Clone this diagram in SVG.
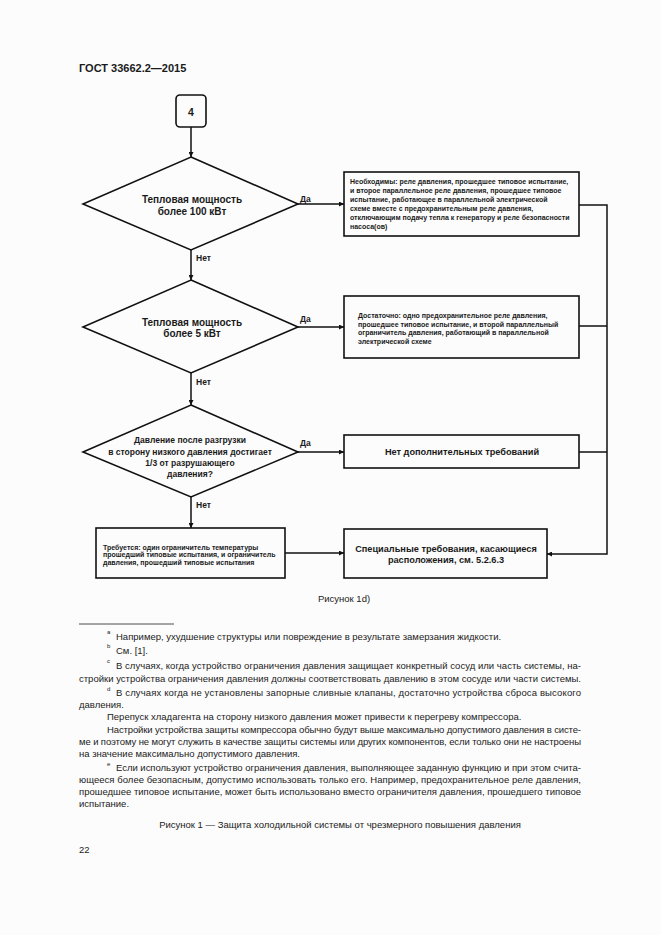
<svg xmlns="http://www.w3.org/2000/svg" width="661" height="935" viewBox="0 0 661 935">
<style>
text{font-family:"Liberation Sans",Arial,sans-serif;fill:#1a1a1a}
.hd{font-size:11px;font-weight:bold}
.dm{font-size:10px;font-weight:bold;text-anchor:middle}
.dq{font-size:8.5px;font-weight:bold;text-anchor:middle}
.lb{font-size:8.5px;font-weight:bold}
.sm{font-size:7px;font-weight:bold}
.md{font-size:9.2px;font-weight:bold;text-anchor:middle}
.fn{font-size:9.5px;fill:#222}
.sup{font-size:6px;fill:#222}
.cap{font-size:9.5px;fill:#222;text-anchor:middle}
.shape{fill:none;stroke:#111;stroke-width:1.6}
.line{fill:none;stroke:#111;stroke-width:1.5}
</style>
<defs>
<marker id="ah" viewBox="0 0 6 6" refX="6" refY="3" markerWidth="5" markerHeight="5" markerUnits="userSpaceOnUse" orient="auto">
<path d="M0,0 L6,3 L0,6 z" fill="#111"/>
</marker>
</defs>
<rect width="661" height="935" fill="#fcfcfc"/>
<text class="hd" x="79" y="72">ГОСТ 33662.2—2015</text>

<g id="start">
<rect class="shape" x="176" y="95" width="30" height="32" rx="4" stroke-width="2"/>
<text x="191" y="115.5" style="font-size:10.5px;font-weight:bold;text-anchor:middle">4</text>
</g>

<g id="d1">
<polygon class="shape" points="191,157 298,204 191,250 83,204" stroke-width="1.3"/>
<text class="dm" x="192" y="203">Тепловая мощность</text>
<text class="dm" x="192" y="215">более 100 кВт</text>
</g>

<g id="d2">
<polygon class="shape" points="191,280 298,327 191,373 83,327" stroke-width="1.3"/>
<text class="dm" x="192" y="326">Тепловая мощность</text>
<text class="dm" x="192" y="337">более 5 кВт</text>
</g>

<g id="d3">
<polygon class="shape" points="191,405 298,452 191,497 83,452" stroke-width="1.3"/>
<text class="dq" x="190" y="443">Давление после разгрузки</text>
<text class="dq" x="190" y="455">в сторону низкого давления достигает</text>
<text class="dq" x="190" y="466">1/3 от разрушающего</text>
<text class="dq" x="190" y="477">давления?</text>
</g>

<g id="b1">
<rect class="shape" x="344" y="172" width="235" height="64"/>
<text class="sm" x="350" y="184">Необходимы: реле давления, прошедшее типовое испытание,</text>
<text class="sm" x="350" y="193">и второе параллельное реле давления, прошедшее типовое</text>
<text class="sm" x="350" y="202">испытание, работающее в параллельной электрической</text>
<text class="sm" x="350" y="211">схеме вместе с предохранительным реле давления,</text>
<text class="sm" x="350" y="220">отключающим подачу тепла к генератору и реле безопасности</text>
<text class="sm" x="350" y="229">насоса(ов)</text>
</g>

<g id="b2">
<rect class="shape" x="344" y="296" width="235" height="62"/>
<text class="sm" x="358" y="318">Достаточно: одно предохранительное реле давления,</text>
<text class="sm" x="358" y="326.5">прошедшее типовое испытание, и второй параллельный</text>
<text class="sm" x="358" y="335">ограничитель давления, работающий в параллельной</text>
<text class="sm" x="358" y="343.5">электрической схеме</text>
</g>

<g id="b3">
<rect class="shape" x="344" y="435" width="235" height="33"/>
<text class="md" x="462" y="455">Нет дополнительных требований</text>
</g>

<g id="b4">
<rect class="shape" x="344" y="529" width="203" height="49" stroke-width="2"/>
<text class="md" x="446" y="551.5">Специальные требования, касающиеся</text>
<text class="md" x="446" y="562.5">расположения, см. 5.2.6.3</text>
</g>

<g id="b5">
<rect class="shape" x="96" y="528" width="189" height="50"/>
<text class="sm" x="103" y="549.5">Требуется: один ограничитель температуры</text>
<text class="sm" x="103" y="557">прошедший типовые испытания, и ограничитель</text>
<text class="sm" x="103" y="564.5">давления, прошедший типовые испытания</text>
</g>

<g id="connectors">
<line class="line" x1="191" y1="127" x2="191" y2="157" marker-end="url(#ah)"/>
<line class="line" x1="298" y1="204" x2="344" y2="204" marker-end="url(#ah)"/>
<line class="line" x1="191" y1="250" x2="191" y2="280" marker-end="url(#ah)"/>
<line class="line" x1="298" y1="327" x2="344" y2="327" marker-end="url(#ah)"/>
<line class="line" x1="191" y1="373" x2="191" y2="405" marker-end="url(#ah)"/>
<line class="line" x1="298" y1="452" x2="344" y2="452" marker-end="url(#ah)"/>
<line class="line" x1="191" y1="497" x2="191" y2="528" marker-end="url(#ah)"/>
<line class="line" x1="285" y1="553" x2="344" y2="553" marker-end="url(#ah)"/>
<polyline class="line" points="579,205 607,205 607,554 547,554" marker-end="url(#ah)"/>
<line class="line" x1="579" y1="326" x2="607" y2="326"/>
<line class="line" x1="579" y1="452" x2="607" y2="452"/>
<text class="lb" x="300" y="202">Да</text>
<text class="lb" x="300" y="322">Да</text>
<text class="lb" x="300" y="446">Да</text>
<text class="lb" x="196" y="261">Нет</text>
<text class="lb" x="196" y="385">Нет</text>
<text class="lb" x="196" y="508">Нет</text>
</g>

<text class="cap" x="344" y="602">Рисунок 1d)</text>
<line x1="79" y1="624" x2="174" y2="624" stroke="#222" stroke-width="0.8"/>

<text class="sup" x="107" y="634">a</text>
<text class="fn" x="116" y="640">Например, ухудшение структуры или повреждение в результате замерзания жидкости.</text>
<text class="sup" x="107" y="648">b</text>
<text class="fn" x="116" y="654">См. [1].</text>
<text class="sup" x="107" y="663">c</text>
<text class="fn" x="116" y="669" textLength="465" lengthAdjust="spacing">В случаях, когда устройство ограничения давления защищает конкретный сосуд или часть системы, на-</text>
<text class="fn" x="79" y="682" textLength="502" lengthAdjust="spacing">стройки устройства ограничения давления должны соответствовать давлению в этом сосуде или части системы.</text>
<text class="sup" x="107" y="690.5">d</text>
<text class="fn" x="116" y="696" textLength="465" lengthAdjust="spacing">В случаях когда не установлены запорные сливные клапаны, достаточно устройства сброса высокого</text>
<text class="fn" x="79" y="708">давления.</text>
<text class="fn" x="107" y="720">Перепуск хладагента на сторону низкого давления может привести к перегреву компрессора.</text>
<text class="fn" x="107" y="733" textLength="474" lengthAdjust="spacing">Настройки устройства защиты компрессора обычно будут выше максимально допустимого давления в систе-</text>
<text class="fn" x="79" y="745" textLength="502" lengthAdjust="spacing">ме и поэтому не могут служить в качестве защиты системы или других компонентов, если только они не настроены</text>
<text class="fn" x="79" y="757">на значение максимально допустимого давления.</text>
<text class="sup" x="107" y="765.5">e</text>
<text class="fn" x="116" y="771" textLength="465" lengthAdjust="spacing">Если используют устройство ограничения давления, выполняющее заданную функцию и при этом счита-</text>
<text class="fn" x="79" y="783" textLength="502" lengthAdjust="spacing">ющееся более безопасным, допустимо использовать только его. Например, предохранительное реле давления,</text>
<text class="fn" x="79" y="795" textLength="502" lengthAdjust="spacing">прошедшее типовое испытание, может быть использовано вместо ограничителя давления, прошедшего типовое</text>
<text class="fn" x="79" y="807">испытание.</text>

<text class="cap" x="340" y="828">Рисунок 1 — Защита холодильной системы от чрезмерного повышения давления</text>
<text class="fn" x="79" y="853">22</text>
</svg>
